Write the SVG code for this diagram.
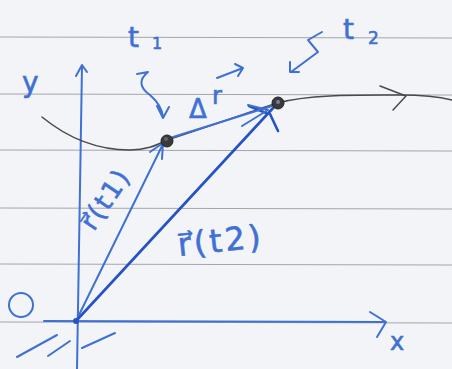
<svg xmlns="http://www.w3.org/2000/svg" width="452" height="369" viewBox="0 0 452 369">
<defs>
<style>
.ink{fill:none;stroke:#3f70d4;stroke-width:2;stroke-linecap:round;stroke-linejoin:round}
.dark{fill:none;stroke:#2453c6;stroke-width:2.6;stroke-linecap:round;stroke-linejoin:round}
.pencil{fill:none;stroke:#4a4a4a;stroke-width:1.5;stroke-linecap:round;stroke-linejoin:round}
.rule{stroke:#a4a6ac;stroke-width:1.2}
.lbl{font-family:"DejaVu Sans","Liberation Sans",sans-serif;fill:#3f70d4;stroke:#3f70d4;stroke-width:0.6}
</style>
</defs>
<rect width="452" height="369" fill="#f3f4f8"/>
<g id="paper-lines">
<line class="rule" x1="0" y1="37" x2="452" y2="38"/>
<line class="rule" x1="0" y1="94" x2="452" y2="95"/>
<line class="rule" x1="0" y1="150" x2="452" y2="151"/>
<line class="rule" x1="0" y1="208" x2="452" y2="209"/>
<line class="rule" x1="0" y1="264" x2="452" y2="265"/>
<line class="rule" x1="0" y1="322" x2="452" y2="323"/>
</g>
<g id="axes">
<path class="ink" d="M82,66 L77,369"/>
<path class="ink" d="M76,76 L82,65 L87,72"/>
<path class="ink" d="M44,321 L385,322"/>
<path class="ink" d="M370,312 L386,322 L377,337"/>
<path class="ink" d="M17,357 L57,335 M48,356 L70,341 M82,348 L115,333"/>
<circle cx="76" cy="321" r="3" fill="#2453c6"/>
</g>
<g id="trajectory">
<path class="pencil" d="M42,117 C70,140 100,150 130,150 C150,150 160,143 170,139 C210,126 250,112 277,103 C310,94 360,95 400,95 C425,95 440,97 452,100"/>
<path class="pencil" d="M380,86 L406,96 L393,110"/>
</g>
<g id="connectors">
<path class="ink" d="M76,321 L163,144"/>
<path class="ink" d="M150,152 L163,143 L162,159"/>
<path class="dark" d="M76,321 L274,107"/>
<path class="dark" d="M249,106 L266,113 M270,114 L278,131"/>
<path class="ink" stroke-width="3" d="M170,138 L272,106"/>
<path class="ink" d="M248,105 L268,110 L242,126"/>
</g>
<g id="point-t1">
<circle cx="167" cy="141" r="6" fill="#3a3a3a" stroke="#222" stroke-width="1"/>
<circle cx="166" cy="139" r="2" fill="#666"/>
</g>
<g id="point-t2">
<circle cx="278" cy="103" r="6" fill="#3a3a3a" stroke="#222" stroke-width="1"/>
<circle cx="278" cy="102" r="2" fill="#7080a0"/>
</g>
<g id="label-t1">
<text class="lbl" x="128" y="47" font-size="28">t</text>
<text class="lbl" x="152" y="49" font-size="16">1</text>
<path class="ink" d="M137,74 L148,72 C138,80 140,88 150,95 C158,102 162,108 163,117 M157,106 L163,118 L169,107"/>
</g>
<g id="label-t2">
<text class="lbl" x="343" y="39" font-size="28">t</text>
<text class="lbl" x="368" y="44" font-size="17">2</text>
<path class="ink" d="M322,32 L308,40 L318,52 L291,72 M290,62 L290,72 L299,72"/>
</g>
<g id="label-dr">
<text class="lbl" x="189" y="118" font-size="26">Δ</text>
<text class="lbl" x="212" y="104" font-size="24">r</text>
<path class="ink" d="M217,78 L243,68 M235,64 L243,68 L238,76"/>
</g>
<g id="label-rt1">
<text class="lbl" font-size="26" letter-spacing="2" transform="translate(94,232) rotate(-56)">r⃗(t1)</text>
</g>
<g id="label-rt2">
<text class="lbl" font-size="32" letter-spacing="3" transform="translate(179,256) rotate(-6)">r⃗(t2)</text>
</g>
<g id="labels-axes">
<text class="lbl" x="22" y="92" font-size="28">y</text>
<text class="lbl" x="390" y="350" font-size="24">x</text>
<ellipse cx="21" cy="305" rx="12" ry="12" fill="none" stroke="#3f70d4" stroke-width="2"/>
</g>
</svg>
